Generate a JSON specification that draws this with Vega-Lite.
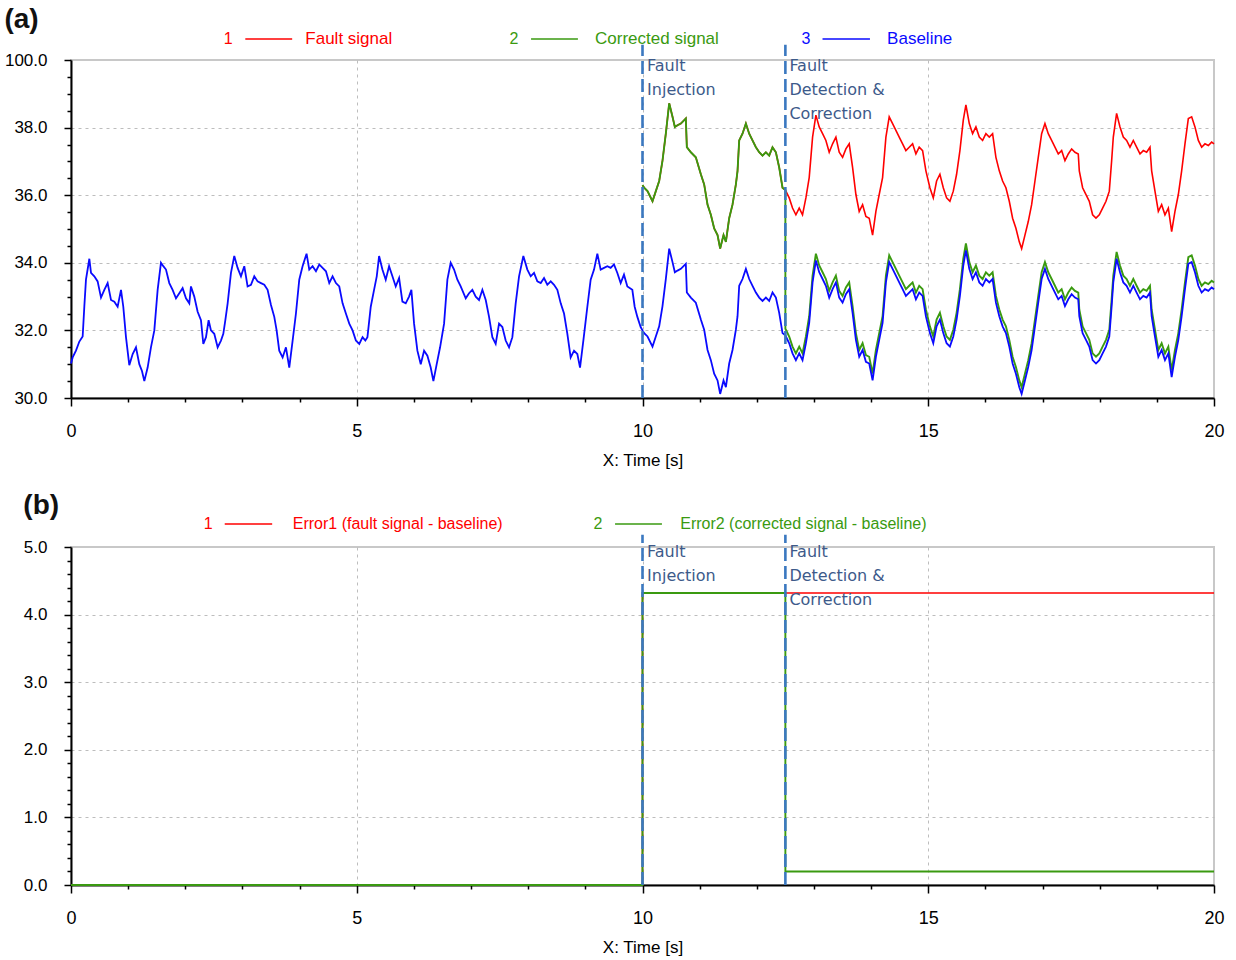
{
"$schema":"https://vega.github.io/schema/vega-lite/v6.json",
"padding":{"left":3,"top":5,"right":12,"bottom":5},
"spacing":22,
"datasets":{
"sig":[
{"t":0,"b":31.02},{"t":0.029,"b":31.2},{"t":0.087,"b":31.4},{"t":0.146,"b":31.67},{"t":0.204,"b":31.82},{"t":0.233,"b":32.7},{"t":0.262,"b":33.5},{"t":0.321,"b":34.12},{"t":0.35,"b":33.7},{"t":0.408,"b":33.6},{"t":0.466,"b":33.45},{"t":0.525,"b":32.97},{"t":0.583,"b":33.2},{"t":0.641,"b":33.4},{"t":0.7,"b":32.9},{"t":0.758,"b":32.85},{"t":0.816,"b":32.7},{"t":0.875,"b":33.2},{"t":0.915,"b":32.7},{"t":0.962,"b":31.8},{"t":1.02,"b":30.97},{"t":1.079,"b":31.3},{"t":1.137,"b":31.5},{"t":1.195,"b":31.0},{"t":1.242,"b":30.8},{"t":1.283,"b":30.5},{"t":1.341,"b":30.9},{"t":1.399,"b":31.5},{"t":1.458,"b":32.0},{"t":1.516,"b":33.2},{"t":1.574,"b":34.0},{"t":1.615,"b":33.9},{"t":1.662,"b":33.8},{"t":1.72,"b":33.4},{"t":1.778,"b":33.2},{"t":1.837,"b":32.95},{"t":1.895,"b":33.1},{"t":1.953,"b":33.25},{"t":2.012,"b":32.95},{"t":2.07,"b":32.8},{"t":2.099,"b":33.3},{"t":2.157,"b":33.0},{"t":2.216,"b":32.55},{"t":2.274,"b":32.3},{"t":2.315,"b":31.6},{"t":2.362,"b":31.8},{"t":2.408,"b":32.3},{"t":2.449,"b":32.0},{"t":2.507,"b":31.9},{"t":2.566,"b":31.5},{"t":2.624,"b":31.7},{"t":2.665,"b":31.9},{"t":2.7,"b":32.3},{"t":2.741,"b":32.8},{"t":2.799,"b":33.7},{"t":2.857,"b":34.2},{"t":2.915,"b":33.85},{"t":2.974,"b":33.6},{"t":3.032,"b":33.9},{"t":3.09,"b":33.3},{"t":3.149,"b":33.35},{"t":3.207,"b":33.6},{"t":3.265,"b":33.45},{"t":3.324,"b":33.4},{"t":3.382,"b":33.35},{"t":3.44,"b":33.2},{"t":3.499,"b":32.75},{"t":3.557,"b":32.4},{"t":3.598,"b":32.0},{"t":3.644,"b":31.4},{"t":3.703,"b":31.2},{"t":3.761,"b":31.5},{"t":3.819,"b":30.9},{"t":3.878,"b":31.7},{"t":3.936,"b":32.5},{"t":3.994,"b":33.5},{"t":4.052,"b":33.9},{"t":4.122,"b":34.27},{"t":4.169,"b":33.8},{"t":4.227,"b":33.9},{"t":4.286,"b":33.75},{"t":4.344,"b":33.95},{"t":4.402,"b":33.85},{"t":4.461,"b":33.75},{"t":4.519,"b":33.4},{"t":4.577,"b":33.6},{"t":4.636,"b":33.4},{"t":4.694,"b":33.3},{"t":4.752,"b":32.8},{"t":4.81,"b":32.5},{"t":4.869,"b":32.2},{"t":4.927,"b":32.0},{"t":4.985,"b":31.7},{"t":5.044,"b":31.6},{"t":5.102,"b":31.8},
{"t":5.15,"b":31.7},{"t":5.187,"b":31.8},{"t":5.245,"b":32.7},{"t":5.303,"b":33.2},{"t":5.35,"b":33.6},{"t":5.391,"b":34.2},{"t":5.449,"b":33.8},{"t":5.507,"b":33.5},{"t":5.566,"b":33.9},{"t":5.624,"b":33.6},{"t":5.682,"b":33.3},{"t":5.741,"b":33.55},{"t":5.799,"b":32.85},{"t":5.857,"b":32.8},{"t":5.915,"b":33.0},{"t":5.956,"b":33.2},{"t":6.003,"b":32.2},{"t":6.061,"b":31.4},{"t":6.12,"b":31.0},{"t":6.178,"b":31.4},{"t":6.236,"b":31.25},{"t":6.294,"b":30.9},{"t":6.341,"b":30.5},{"t":6.399,"b":31.0},{"t":6.458,"b":31.5},{"t":6.528,"b":32.2},{"t":6.586,"b":33.5},{"t":6.644,"b":34.0},{"t":6.703,"b":33.8},{"t":6.761,"b":33.5},{"t":6.819,"b":33.3},{"t":6.907,"b":32.95},{"t":6.965,"b":33.1},{"t":7.023,"b":33.2},{"t":7.082,"b":33.0},{"t":7.14,"b":32.9},{"t":7.198,"b":33.2},{"t":7.257,"b":32.9},{"t":7.315,"b":32.4},{"t":7.373,"b":31.8},{"t":7.431,"b":31.6},{"t":7.49,"b":32.2},{"t":7.548,"b":32.1},{"t":7.606,"b":31.7},{"t":7.665,"b":31.5},{"t":7.723,"b":31.8},{"t":7.781,"b":32.8},{"t":7.84,"b":33.6},{"t":7.915,"b":34.2},{"t":7.985,"b":33.8},{"t":8.044,"b":33.6},{"t":8.102,"b":33.7},{"t":8.16,"b":33.45},{"t":8.219,"b":33.4},{"t":8.277,"b":33.55},{"t":8.335,"b":33.35},{"t":8.394,"b":33.45},{"t":8.452,"b":33.35},{"t":8.51,"b":33.2},{"t":8.569,"b":32.8},{"t":8.627,"b":32.5},{"t":8.685,"b":31.9},{"t":8.743,"b":31.2},{"t":8.802,"b":31.4},{"t":8.86,"b":31.3},{"t":8.907,"b":30.9},{"t":8.965,"b":31.7},{"t":9.035,"b":32.7},{"t":9.093,"b":33.5},{"t":9.152,"b":33.8},{"t":9.21,"b":34.27},{"t":9.268,"b":33.8},{"t":9.327,"b":33.85},{"t":9.385,"b":33.9},{"t":9.443,"b":33.85},{"t":9.501,"b":33.95},{"t":9.56,"b":33.7},{"t":9.618,"b":33.4},{"t":9.676,"b":33.65},{"t":9.735,"b":33.3},{"t":9.822,"b":33.2},{"t":9.863,"b":32.7},{"t":9.91,"b":32.4},{"t":9.968,"b":32.1},
{"t":10,"b":32.0,"f":36.3,"c":36.3},{"t":10.029,"b":31.92,"f":36.22,"c":36.22},{"t":10.088,"b":31.82,"f":36.12,"c":36.12},{"t":10.175,"b":31.52,"f":35.82,"c":35.82},{"t":10.233,"b":31.82,"f":36.12,"c":36.12},{"t":10.292,"b":32.12,"f":36.42,"c":36.42},{"t":10.35,"b":32.72,"f":37.02,"c":37.02},{"t":10.408,"b":33.52,"f":37.82,"c":37.82},{"t":10.467,"b":34.42,"f":38.72,"c":38.72},{"t":10.525,"b":34.02,"f":38.32,"c":38.32},{"t":10.566,"b":33.72,"f":38.02,"c":38.02},{"t":10.613,"b":33.77,"f":38.07,"c":38.07},{"t":10.671,"b":33.82,"f":38.12,"c":38.12},{"t":10.758,"b":33.97,"f":38.27,"c":38.27},{"t":10.776,"b":33.12,"f":37.42,"c":37.42},{"t":10.846,"b":32.97,"f":37.27,"c":37.27},{"t":10.933,"b":32.82,"f":37.12,"c":37.12},{"t":11.021,"b":32.32,"f":36.62,"c":36.62},{"t":11.079,"b":32.02,"f":36.32,"c":36.32},{"t":11.138,"b":31.42,"f":35.72,"c":35.72},{"t":11.196,"b":31.12,"f":35.42,"c":35.42},{"t":11.254,"b":30.72,"f":35.02,"c":35.02},{"t":11.313,"b":30.52,"f":34.82,"c":34.82},{"t":11.359,"b":30.12,"f":34.42,"c":34.42},{"t":11.418,"b":30.52,"f":34.82,"c":34.82},{"t":11.459,"b":30.32,"f":34.62,"c":34.62},{"t":11.517,"b":31.02,"f":35.32,"c":35.32},{"t":11.575,"b":31.42,"f":35.72,"c":35.72},{"t":11.634,"b":32.02,"f":36.32,"c":36.32},{"t":11.663,"b":32.42,"f":36.72,"c":36.72},{"t":11.692,"b":33.32,"f":37.62,"c":37.62},{"t":11.75,"b":33.52,"f":37.82,"c":37.82},{"t":11.809,"b":33.82,"f":38.12,"c":38.12},{"t":11.867,"b":33.52,"f":37.82,"c":37.82},{"t":11.925,"b":33.32,"f":37.62,"c":37.62},{"t":11.984,"b":33.12,"f":37.42,"c":37.42},{"t":12.042,"b":32.97,"f":37.27,"c":37.27},{"t":12.1,"b":32.87,"f":37.17,"c":37.17},{"t":12.159,"b":32.97,"f":37.27,"c":37.27},{"t":12.217,"b":32.87,"f":37.17,"c":37.17},{"t":12.275,"b":33.12,"f":37.42,"c":37.42},{"t":12.334,"b":32.97,"f":37.27,"c":37.27},{"t":12.392,"b":32.52,"f":36.82,"c":36.82},{"t":12.45,"b":31.92,"f":36.22,"c":36.22},{"t":12.5,"b":31.85,"f":36.15,"c":36.15},
{"t":12.5001,"b":31.85,"f":36.15,"c":32.05},{"t":12.509,"b":31.82,"f":36.12,"c":32.02},{"t":12.567,"b":31.62,"f":35.92,"c":31.82},{"t":12.625,"b":31.32,"f":35.62,"c":31.52},{"t":12.684,"b":31.12,"f":35.42,"c":31.32},{"t":12.742,"b":31.32,"f":35.62,"c":31.52},{"t":12.8,"b":31.12,"f":35.42,"c":31.32},{"t":12.859,"b":31.62,"f":35.92,"c":31.82},{"t":12.917,"b":32.22,"f":36.52,"c":32.42},{"t":12.976,"b":33.42,"f":37.72,"c":33.62},{"t":13.034,"b":34.07,"f":38.37,"c":34.27},{"t":13.092,"b":33.72,"f":38.02,"c":33.92},{"t":13.151,"b":33.52,"f":37.82,"c":33.72},{"t":13.209,"b":33.32,"f":37.62,"c":33.52},{"t":13.267,"b":32.97,"f":37.27,"c":33.17},{"t":13.326,"b":33.22,"f":37.52,"c":33.42},{"t":13.384,"b":33.42,"f":37.72,"c":33.62},{"t":13.442,"b":32.97,"f":37.27,"c":33.17},{"t":13.501,"b":32.82,"f":37.12,"c":33.02},{"t":13.559,"b":33.07,"f":37.37,"c":33.27},{"t":13.617,"b":33.22,"f":37.52,"c":33.42},{"t":13.676,"b":32.52,"f":36.82,"c":32.72},{"t":13.734,"b":31.72,"f":36.02,"c":31.92},{"t":13.792,"b":31.22,"f":35.52,"c":31.42},{"t":13.851,"b":31.42,"f":35.72,"c":31.62},{"t":13.909,"b":31.07,"f":35.37,"c":31.27},{"t":13.967,"b":31.02,"f":35.32,"c":31.22},{"t":14.026,"b":30.52,"f":34.82,"c":30.72},{"t":14.084,"b":31.22,"f":35.52,"c":31.42},{"t":14.142,"b":31.72,"f":36.02,"c":31.92},{"t":14.201,"b":32.22,"f":36.52,"c":32.42},{"t":14.259,"b":33.42,"f":37.72,"c":33.62},{"t":14.317,"b":34.02,"f":38.32,"c":34.22},{"t":14.376,"b":33.82,"f":38.12,"c":34.02},{"t":14.434,"b":33.62,"f":37.92,"c":33.82},{"t":14.492,"b":33.42,"f":37.72,"c":33.62},{"t":14.551,"b":33.22,"f":37.52,"c":33.42},{"t":14.609,"b":33.02,"f":37.32,"c":33.22},{"t":14.667,"b":33.12,"f":37.42,"c":33.32},{"t":14.726,"b":33.22,"f":37.52,"c":33.42},{"t":14.784,"b":32.92,"f":37.22,"c":33.12},{"t":14.842,"b":33.12,"f":37.42,"c":33.32},{"t":14.901,"b":33.02,"f":37.32,"c":33.22},{"t":14.959,"b":32.42,"f":36.72,"c":32.62},
{"t":15.029,"b":31.92,"f":36.22,"c":32.12},{"t":15.088,"b":31.62,"f":35.92,"c":31.82},{"t":15.146,"b":32.12,"f":36.42,"c":32.32},{"t":15.204,"b":32.32,"f":36.62,"c":32.52},{"t":15.263,"b":31.92,"f":36.22,"c":32.12},{"t":15.321,"b":31.62,"f":35.92,"c":31.82},{"t":15.379,"b":31.52,"f":35.82,"c":31.72},{"t":15.438,"b":31.82,"f":36.12,"c":32.02},{"t":15.496,"b":32.32,"f":36.62,"c":32.52},{"t":15.554,"b":33.02,"f":37.32,"c":33.22},{"t":15.613,"b":33.92,"f":38.22,"c":34.12},{"t":15.659,"b":34.37,"f":38.67,"c":34.57},{"t":15.718,"b":33.82,"f":38.12,"c":34.02},{"t":15.776,"b":33.52,"f":37.82,"c":33.72},{"t":15.834,"b":33.72,"f":38.02,"c":33.92},{"t":15.893,"b":33.42,"f":37.72,"c":33.62},{"t":15.951,"b":33.32,"f":37.62,"c":33.52},{"t":16.009,"b":33.52,"f":37.82,"c":33.72},{"t":16.068,"b":33.42,"f":37.72,"c":33.62},{"t":16.126,"b":33.52,"f":37.82,"c":33.72},{"t":16.184,"b":32.82,"f":37.12,"c":33.02},{"t":16.243,"b":32.42,"f":36.72,"c":32.62},{"t":16.301,"b":32.12,"f":36.42,"c":32.32},{"t":16.359,"b":31.92,"f":36.22,"c":32.12},{"t":16.418,"b":31.52,"f":35.82,"c":31.72},{"t":16.476,"b":31.02,"f":35.32,"c":31.22},{"t":16.534,"b":30.72,"f":35.02,"c":30.92},{"t":16.593,"b":30.32,"f":34.62,"c":30.52},{"t":16.634,"b":30.12,"f":34.42,"c":30.32},{"t":16.692,"b":30.52,"f":34.82,"c":30.72},{"t":16.75,"b":30.92,"f":35.22,"c":31.12},{"t":16.809,"b":31.42,"f":35.72,"c":31.62},{"t":16.867,"b":32.12,"f":36.42,"c":32.32},{"t":16.925,"b":32.82,"f":37.12,"c":33.02},{"t":16.984,"b":33.52,"f":37.82,"c":33.72},{"t":17.042,"b":33.82,"f":38.12,"c":34.02},{"t":17.1,"b":33.52,"f":37.82,"c":33.72},{"t":17.159,"b":33.32,"f":37.62,"c":33.52},{"t":17.217,"b":33.12,"f":37.42,"c":33.32},{"t":17.275,"b":32.92,"f":37.22,"c":33.12},{"t":17.334,"b":33.02,"f":37.32,"c":33.22},{"t":17.392,"b":32.72,"f":37.02,"c":32.92},{"t":17.45,"b":32.92,"f":37.22,"c":33.12},{"t":17.509,"b":33.07,"f":37.37,"c":33.27},{"t":17.567,"b":32.97,"f":37.27,"c":33.17},{"t":17.625,"b":32.92,"f":37.22,"c":33.12},{"t":17.643,"b":32.42,"f":36.72,"c":32.62},{"t":17.701,"b":31.92,"f":36.22,"c":32.12},{"t":17.76,"b":31.72,"f":36.02,"c":31.92},{"t":17.818,"b":31.52,"f":35.82,"c":31.72},{"t":17.876,"b":31.12,"f":35.42,"c":31.32},{"t":17.935,"b":31.02,"f":35.32,"c":31.22},{"t":17.993,"b":31.12,"f":35.42,"c":31.32},{"t":18.051,"b":31.32,"f":35.62,"c":31.52},{"t":18.11,"b":31.52,"f":35.82,"c":31.72},{"t":18.168,"b":31.82,"f":36.12,"c":32.02},{"t":18.209,"b":32.72,"f":37.02,"c":32.92},{"t":18.238,"b":33.42,"f":37.72,"c":33.62},{"t":18.296,"b":34.12,"f":38.42,"c":34.32},{"t":18.355,"b":33.72,"f":38.02,"c":33.92},{"t":18.413,"b":33.42,"f":37.72,"c":33.62},{"t":18.471,"b":33.32,"f":37.62,"c":33.52},{"t":18.53,"b":33.12,"f":37.42,"c":33.32},{"t":18.588,"b":33.32,"f":37.62,"c":33.52},{"t":18.646,"b":33.12,"f":37.42,"c":33.32},{"t":18.705,"b":32.92,"f":37.22,"c":33.12},{"t":18.763,"b":33.02,"f":37.32,"c":33.22},{"t":18.821,"b":32.97,"f":37.27,"c":33.17},{"t":18.88,"b":33.12,"f":37.42,"c":33.32},{"t":18.909,"b":32.42,"f":36.72,"c":32.62},{"t":18.967,"b":31.82,"f":36.12,"c":32.02},{"t":19.026,"b":31.22,"f":35.52,"c":31.42},{"t":19.084,"b":31.42,"f":35.72,"c":31.62},{"t":19.142,"b":31.12,"f":35.42,"c":31.32},{"t":19.201,"b":31.32,"f":35.62,"c":31.52},{"t":19.259,"b":30.62,"f":34.92,"c":30.82},{"t":19.317,"b":31.22,"f":35.52,"c":31.42},{"t":19.376,"b":31.72,"f":36.02,"c":31.92},{"t":19.434,"b":32.42,"f":36.72,"c":32.62},{"t":19.492,"b":33.22,"f":37.52,"c":33.42},{"t":19.551,"b":33.97,"f":38.27,"c":34.17},{"t":19.609,"b":34.02,"f":38.32,"c":34.22},{"t":19.667,"b":33.72,"f":38.02,"c":33.92},{"t":19.726,"b":33.32,"f":37.62,"c":33.52},{"t":19.784,"b":33.12,"f":37.42,"c":33.32},{"t":19.842,"b":33.22,"f":37.52,"c":33.42},{"t":19.901,"b":33.17,"f":37.47,"c":33.37},{"t":19.959,"b":33.27,"f":37.57,"c":33.47},{"t":20,"b":33.22,"f":37.52,"c":33.42}
],
"err":[
{"t":0,"e1":0,"e2":0},{"t":10,"e1":0,"e2":0},{"t":10.0001,"e1":4.32,"e2":4.32},{"t":12.5,"e1":4.32,"e2":4.32},{"t":12.5001,"e1":4.32,"e2":0.2},{"t":20,"e1":4.32,"e2":0.2}
],
"ev":[{"t":10},{"t":12.5}],
"annot":[{"t":10.08,"txt":"Fault\nInjection"},{"t":12.57,"txt":"Fault\nDetection  &\nCorrection"}],
"legA":[
{"n":"1","lab":"Fault signal","s":"f","tn":2.75,"t0":3.05,"t1":3.87,"tl":4.1},
{"n":"2","lab":"Corrected signal","s":"c","tn":7.75,"t0":8.05,"t1":8.87,"tl":9.17},
{"n":"3","lab":"Baseline","s":"b","tn":12.86,"t0":13.15,"t1":13.98,"tl":14.28}
],
"legB":[
{"n":"1","lab":"Error1 (fault signal - baseline)","s":"f","tn":2.4,"t0":2.69,"t1":3.52,"tl":3.88},
{"n":"2","lab":"Error2 (corrected signal  - baseline)","s":"c","tn":9.22,"t0":9.52,"t1":10.34,"tl":10.66}
]
},
"vconcat":[
{
"width":1143,"height":338,
"title":{"text":"(a)","anchor":"start","frame":"bounds","fontSize":28,"fontWeight":"bold","font":"Liberation Sans","color":"#111111","offset":-4},
"layer":[
{"data":{"name":"sig"},"mark":{"type":"line","color":"#ff0000","strokeWidth":1.6},
"encoding":{
"x":{"field":"t","type":"quantitative","title":"X: Time [s]","scale":{"domain":[0,20],"nice":false,"zero":false},
"axis":{"labelOverlap":false,"tickCount":200,"values":[0,1,2,3,4,5,6,7,8,9,10,11,12,13,14,15,16,17,18,19,20],"labelExpr":"datum.value % 5 == 0 ? format(datum.value, 'd') : ''","tickSize":{"condition":{"test":"datum.value % 5 == 0","value":8},"value":4},"gridOpacity":{"condition":{"test":"datum.value % 5 == 0 && datum.value > 0 && datum.value < 20","value":1},"value":0}}},
"y":{"field":"f","type":"quantitative","title":null,"scale":{"domain":[30,40],"nice":false,"zero":false},
"axis":{"labelOverlap":false,"tickCount":200,"values":[30,30.5,31,31.5,32,32.5,33,33.5,34,34.5,35,35.5,36,36.5,37,37.5,38,38.5,39,39.5,40],"labelExpr":"datum.value == 40 ? '100.0' : (datum.value % 2 == 0 ? format(datum.value, '.1f') : '')","tickSize":{"condition":{"test":"datum.value % 2 == 0","value":7},"value":4},"gridOpacity":{"condition":{"test":"datum.value % 2 == 0 && datum.value > 30 && datum.value < 40","value":1},"value":0}}}}},
{"data":{"name":"sig"},"mark":{"type":"line","color":"#3a9a10","strokeWidth":1.9},
"encoding":{"x":{"field":"t","type":"quantitative","title":"X: Time [s]"},"y":{"field":"c","type":"quantitative","title":null}}},
{"data":{"name":"sig"},"mark":{"type":"line","color":"#0a0aff","strokeWidth":1.8},
"encoding":{"x":{"field":"t","type":"quantitative","title":"X: Time [s]"},"y":{"field":"b","type":"quantitative","title":null}}},
{"data":{"name":"ev"},"mark":{"type":"rule","color":"#3b78c0","strokeWidth":2.6,"strokeDash":[13,5]},
"encoding":{"x":{"field":"t","type":"quantitative","title":"X: Time [s]"},"y":{"datum":30},"y2":{"datum":40.45}}},
{"data":{"name":"annot"},"mark":{"type":"text","align":"left","baseline":"top","font":"DejaVu Sans","fontSize":16,"color":"#3d5a8a","lineBreak":"\n","lineHeight":24,"dy":-2},
"encoding":{"x":{"field":"t","type":"quantitative","title":"X: Time [s]"},"y":{"datum":40},"text":{"field":"txt"}}},
{"data":{"name":"legA"},"mark":{"type":"text","align":"center","baseline":"middle","font":"Liberation Sans","fontSize":16},
"encoding":{"x":{"field":"tn","type":"quantitative","title":"X: Time [s]"},"y":{"datum":40.62},"text":{"field":"n"},
"color":{"field":"s","type":"nominal","scale":{"domain":["f","c","b"],"range":["#ff0000","#3a9a10","#0a0aff"]},"legend":null}}},
{"data":{"name":"legA"},"mark":{"type":"rule","strokeWidth":1.5},
"encoding":{"x":{"field":"t0","type":"quantitative","title":"X: Time [s]"},"x2":{"field":"t1"},"y":{"datum":40.62},
"color":{"field":"s","type":"nominal","legend":null}}},
{"data":{"name":"legA"},"mark":{"type":"text","align":"left","baseline":"middle","font":"Liberation Sans","fontSize":17},
"encoding":{"x":{"field":"tl","type":"quantitative","title":"X: Time [s]"},"y":{"datum":40.62},"text":{"field":"lab"},
"color":{"field":"s","type":"nominal","legend":null}}}
]
},
{
"width":1143,"height":338,
"title":{"text":"(b)","anchor":"start","frame":"bounds","fontSize":28,"fontWeight":"bold","font":"Liberation Sans","color":"#111111","offset":-4},
"layer":[
{"data":{"name":"err"},"mark":{"type":"line","color":"#ff0000","strokeWidth":1.6},
"encoding":{
"x":{"field":"t","type":"quantitative","title":"X: Time [s]","scale":{"domain":[0,20],"nice":false,"zero":false},
"axis":{"labelOverlap":false,"tickCount":200,"values":[0,1,2,3,4,5,6,7,8,9,10,11,12,13,14,15,16,17,18,19,20],"labelExpr":"datum.value % 5 == 0 ? format(datum.value, 'd') : ''","tickSize":{"condition":{"test":"datum.value % 5 == 0","value":8},"value":4},"gridOpacity":{"condition":{"test":"datum.value % 5 == 0 && datum.value > 0 && datum.value < 20","value":1},"value":0}}},
"y":{"field":"e1","type":"quantitative","title":null,"scale":{"domain":[0,5],"nice":false,"zero":false},
"axis":{"labelOverlap":false,"tickCount":200,"values":[0,0.2,0.4,0.6,0.8,1,1.2,1.4,1.6,1.8,2,2.2,2.4,2.6,2.8,3,3.2,3.4,3.6,3.8,4,4.2,4.4,4.6,4.8,5],"labelExpr":"abs(datum.value - round(datum.value)) < 0.001 ? format(datum.value, '.1f') : ''","tickSize":{"condition":{"test":"abs(datum.value - round(datum.value)) < 0.001","value":7},"value":4},"gridOpacity":{"condition":{"test":"abs(datum.value - round(datum.value)) < 0.001 && datum.value > 0.5 && datum.value < 4.5","value":1},"value":0}}}}},
{"data":{"name":"err"},"mark":{"type":"line","color":"#3a9a10","strokeWidth":1.9},
"encoding":{"x":{"field":"t","type":"quantitative","title":"X: Time [s]"},"y":{"field":"e2","type":"quantitative","title":null}}},
{"data":{"name":"ev"},"mark":{"type":"rule","color":"#3b78c0","strokeWidth":2.6,"strokeDash":[13,5]},
"encoding":{"x":{"field":"t","type":"quantitative","title":"X: Time [s]"},"y":{"datum":0},"y2":{"datum":5.18}}},
{"data":{"name":"annot"},"mark":{"type":"text","align":"left","baseline":"top","font":"DejaVu Sans","fontSize":16,"color":"#3d5a8a","lineBreak":"\n","lineHeight":24,"dy":-3},
"encoding":{"x":{"field":"t","type":"quantitative","title":"X: Time [s]"},"y":{"datum":5},"text":{"field":"txt"}}},
{"data":{"name":"legB"},"mark":{"type":"text","align":"center","baseline":"middle","font":"Liberation Sans","fontSize":16},
"encoding":{"x":{"field":"tn","type":"quantitative","title":"X: Time [s]"},"y":{"datum":5.34},"text":{"field":"n"},
"color":{"field":"s","type":"nominal","scale":{"domain":["f","c","b"],"range":["#ff0000","#3a9a10","#0a0aff"]},"legend":null}}},
{"data":{"name":"legB"},"mark":{"type":"rule","strokeWidth":1.5},
"encoding":{"x":{"field":"t0","type":"quantitative","title":"X: Time [s]"},"x2":{"field":"t1"},"y":{"datum":5.34},
"color":{"field":"s","type":"nominal","legend":null}}},
{"data":{"name":"legB"},"mark":{"type":"text","align":"left","baseline":"middle","font":"Liberation Sans","fontSize":16},
"encoding":{"x":{"field":"tl","type":"quantitative","title":"X: Time [s]"},"y":{"datum":5.34},"text":{"field":"lab"},
"color":{"field":"s","type":"nominal","legend":null}}}
]
}
],
"config":{
"view":{"stroke":"#c8c8c8","strokeWidth":2},
"axis":{"domainColor":"#000000","domainWidth":2,"tickColor":"#000000","tickWidth":1.5,"labelFont":"Liberation Sans","labelFontSize":17,"labelColor":"#000000","gridColor":"#bdbdbd","gridDash":[3,4],"gridWidth":1,"titleFont":"Liberation Sans","titleFontSize":17,"titleFontWeight":"normal","titleColor":"#000000","labelFlush":false,"labelOverlap":false},
"axisX":{"labelFontSize":18,"labelPadding":16,"titlePadding":12},
"axisY":{"labelPadding":17}
}
}
